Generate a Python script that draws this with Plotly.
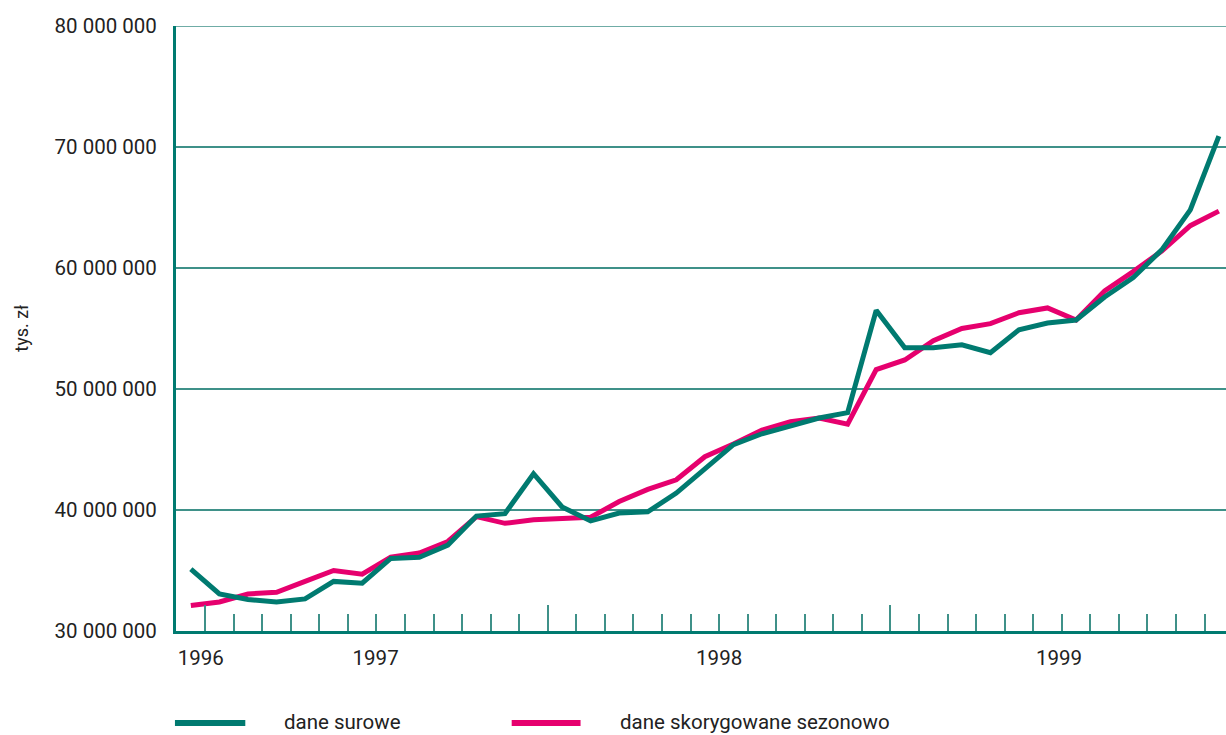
import plotly.graph_objects as go

months = list(range(37))
raw = [35.12, 33.06, 32.6, 32.4, 32.65, 34.1, 33.95, 36.0, 36.1, 37.1, 39.5, 39.7,
       43.0, 40.25, 39.1, 39.75, 39.85, 41.4, 43.4, 45.4, 46.3, 46.95, 47.6, 48.05,
       56.5, 53.4, 53.4, 53.65, 53.0, 54.9, 55.45, 55.7, 57.6, 59.2, 61.5, 64.8, 70.9]
adjusted = [32.1, 32.4, 33.06, 33.2, 34.1, 35.0, 34.7, 36.1, 36.45, 37.4, 39.45, 38.9,
            39.2, 39.3, 39.4, 40.7, 41.7, 42.5, 44.4, 45.45, 46.6, 47.3, 47.6, 47.1,
            51.6, 52.4, 54.0, 55.0, 55.4, 56.3, 56.7, 55.7, 58.1, 59.7, 61.4, 63.5, 64.7]
raw = [v * 1e6 for v in raw]
adjusted = [v * 1e6 for v in adjusted]

year_labels = ["1996", "1997", "1998", "1999"]
year_label_pos = [0.35, 6.47, 18.5, 30.4]
month_ticks = [k + 0.5 for k in range(36)]
year_ticks = [0.5, 12.5, 24.5]
y_ticks = [30e6, 40e6, 50e6, 60e6, 70e6, 80e6]
y_text = ["30 000 000", "40 000 000", "50 000 000", "60 000 000", "70 000 000", "80 000 000"]

GREEN = "#007A70"
PINK = "#E6006E"
GRID = "#3F9189"
FONT = "Roboto, Arial, sans-serif"
FS = 20.5
XR = [-0.52, 36.25]

fig = go.Figure()
fig.add_trace(go.Scatter(x=months, y=adjusted, mode="lines", name="dane skorygowane sezonowo",
                         line=dict(color=PINK, width=5), showlegend=False))
fig.add_trace(go.Scatter(x=months, y=raw, mode="lines", name="dane surowe",
                         line=dict(color=GREEN, width=5), showlegend=False))
# invisible trace to activate xaxis2 (year ticks)
fig.add_trace(go.Scatter(x=[0], y=[30e6], xaxis="x2", mode="markers",
                         marker=dict(opacity=0), showlegend=False, hoverinfo="skip"))

fig.update_layout(
    width=1226, height=735,
    margin=dict(l=176, r=0, t=26, b=104, autoexpand=False),
    plot_bgcolor="white", paper_bgcolor="white",
    font=dict(family=FONT, size=FS, color="#222222"),
    xaxis=dict(range=XR, tickmode="array", tickvals=year_label_pos, ticktext=year_labels,
               ticks="", showgrid=False, zeroline=False,
               showline=True, linecolor=GREEN, linewidth=3,
               ticklabelstandoff=6, tickfont=dict(size=FS),
               minor=dict(tickmode="array", tickvals=month_ticks, ticks="inside",
                          ticklen=17, tickwidth=2, tickcolor=GRID, showgrid=False)),
    xaxis2=dict(range=XR, overlaying="x", anchor="y", side="bottom",
                tickmode="array", tickvals=year_ticks, ticks="inside", ticklen=26,
                tickwidth=2, tickcolor=GRID, showticklabels=False,
                showgrid=False, zeroline=False, showline=False),
    yaxis=dict(range=[30e6, 80e6], tickmode="array", tickvals=y_ticks, ticktext=y_text,
               ticks="", showgrid=True, gridcolor=GRID, gridwidth=1.5,
               zeroline=False, showline=True, linecolor=GREEN, linewidth=3,
               ticklabelstandoff=12, tickfont=dict(size=FS)),
)

# top gridline at 80 000 000
fig.add_shape(type="line", xref="paper", yref="y", x0=0, x1=1, y0=80e6, y1=80e6,
              line=dict(color=GRID, width=1.5), layer="below")

# y axis title
fig.add_annotation(text="tys. zł", xref="paper", yref="paper", x=-0.1475, y=0.5,
                   textangle=-90, xanchor="center", yanchor="middle", showarrow=False,
                   font=dict(size=18))

# legend drawn manually
fig.add_shape(type="line", xref="paper", yref="paper", x0=-0.001, x1=0.066, y0=-0.152, y1=-0.152,
              line=dict(color=GREEN, width=6))
fig.add_shape(type="line", xref="paper", yref="paper", x0=0.3197, x1=0.3853, y0=-0.152, y1=-0.152,
              line=dict(color=PINK, width=6))
fig.add_annotation(text="dane surowe", xref="paper", yref="paper", x=0.1008, y=-0.150,
                   xanchor="left", yanchor="middle", showarrow=False, font=dict(size=FS))
fig.add_annotation(text="dane skorygowane sezonowo", xref="paper", yref="paper", x=0.4206, y=-0.150,
                   xanchor="left", yanchor="middle", showarrow=False, font=dict(size=FS))

fig.write_html("out.html", config={"displayModeBar": False},
               post_script="document.body.style.margin='0';")
